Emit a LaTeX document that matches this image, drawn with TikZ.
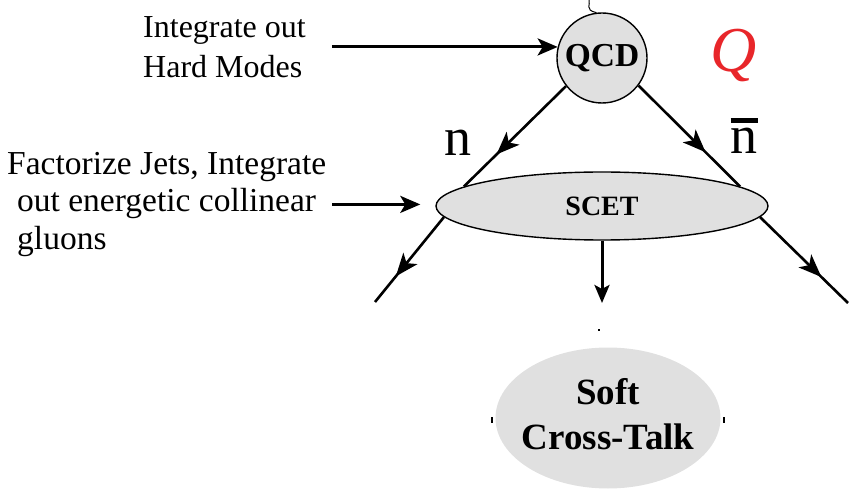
\documentclass[tikz,border=0pt]{standalone}
\usepackage{fontspec}
\setmainfont{Liberation Serif}
\usetikzlibrary{arrows.meta,shapes.geometric,decorations.markings}
\definecolor{nodegray}{RGB}{224,224,224}
\definecolor{qred}{RGB}{232,38,42}
\newcommand{\nbarsym}{\vbox{\hrule height 5pt\kern 6pt\hbox{n}}}
\begin{document}
\begin{tikzpicture}[x=1pt,y=-1pt,
  conn/.style={line width=2.6pt},
  bigarrow/.style={line width=3pt,-{Stealth[length=20pt,width=17pt,inset=5pt]}},
  downarrow/.style={line width=3pt,-{Stealth[length=18pt,width=15pt,inset=4pt]}},
  midarrow/.style={postaction={decorate},decoration={markings,mark=at position #1 with {\arrow{Stealth[length=23pt,width=18pt,inset=6pt]}}}},
  graynode/.style={fill=nodegray,inner sep=0pt,text=black},
  sidetext/.style={align=left,anchor=north west,inner sep=0pt},
]
\useasboundingbox (0,0) rectangle (852,489);

% nodes
\node[graynode,circle,draw=black,line width=1.4pt,minimum size=90pt,
      font=\bfseries\fontsize{33.5}{33.5}\selectfont] (qcd) at (602,58) {QCD};
\node[graynode,ellipse,draw=black,line width=1.4pt,minimum width=332pt,minimum height=68pt,
      font=\bfseries\fontsize{28}{28}\selectfont] (scet) at (602,206) {SCET};
\node[graynode,ellipse,minimum width=225pt,minimum height=141pt,inner xsep=-20pt,
      font=\bfseries\fontsize{37}{45}\selectfont] (soft) at (608,418)
  {\begin{tabular}{@{}c@{}}Soft\\Cross-Talk\end{tabular}};

\node[text=qred,font=\itshape\fontsize{64}{64}\selectfont,anchor=base] (qlab) at (734,72) {Q};
\node[font=\fontsize{54}{54}\selectfont,anchor=base,inner sep=0pt] (nlab) at (458,156) {n};
\node[font=\fontsize{54}{54}\selectfont,anchor=base,inner sep=0pt] (nbarlab) at (744,154) {\nbarsym};

\node[sidetext,font=\fontsize{32}{40}\selectfont] (hard) at (143,16) {Integrate out\\Hard Modes};
\node[sidetext,font=\fontsize{33.5}{37.5}\selectfont] (fact) at (7,152)
  {Factorize Jets, Integrate\\\hspace*{10pt}out energetic collinear\\\hspace*{10pt}gluons};

% free ends
\coordinate (wigtop) at (589,0);
\coordinate (lleft) at (375,302);
\coordinate (lright) at (848,303);
\coordinate (sctip) at (602,303);
\coordinate (h1) at ([xshift=26pt]hard.east);
\coordinate (f1) at ([xshift=6pt]fact.east);
\coordinate (f2) at ([xshift=-15pt]scet.west);

% connectors
\draw[line width=1pt] (qcd.97) .. controls (584,10) and (591,4) .. (wigtop);
\draw[conn,midarrow=0.68] (qcd.218) -- (scet.172);
\draw[conn,midarrow=0.66] (qcd.323) -- (scet.8.6);
\draw[conn,midarrow=0.7] (scet.184) -- (lleft);
\draw[conn,midarrow=0.7] (scet.356) -- (lright);
\draw[downarrow] (scet.south) -- (sctip);
\draw[bigarrow] (h1 |- qcd.166) -- (qcd.166);
\draw[bigarrow] (f1) -- (f1 -| f2);

% small marks
\fill (598,329) rectangle (600,331);
\fill (491,417) rectangle (493,423);
\fill (723,417) rectangle (725,423);
\end{tikzpicture}
\end{document}
